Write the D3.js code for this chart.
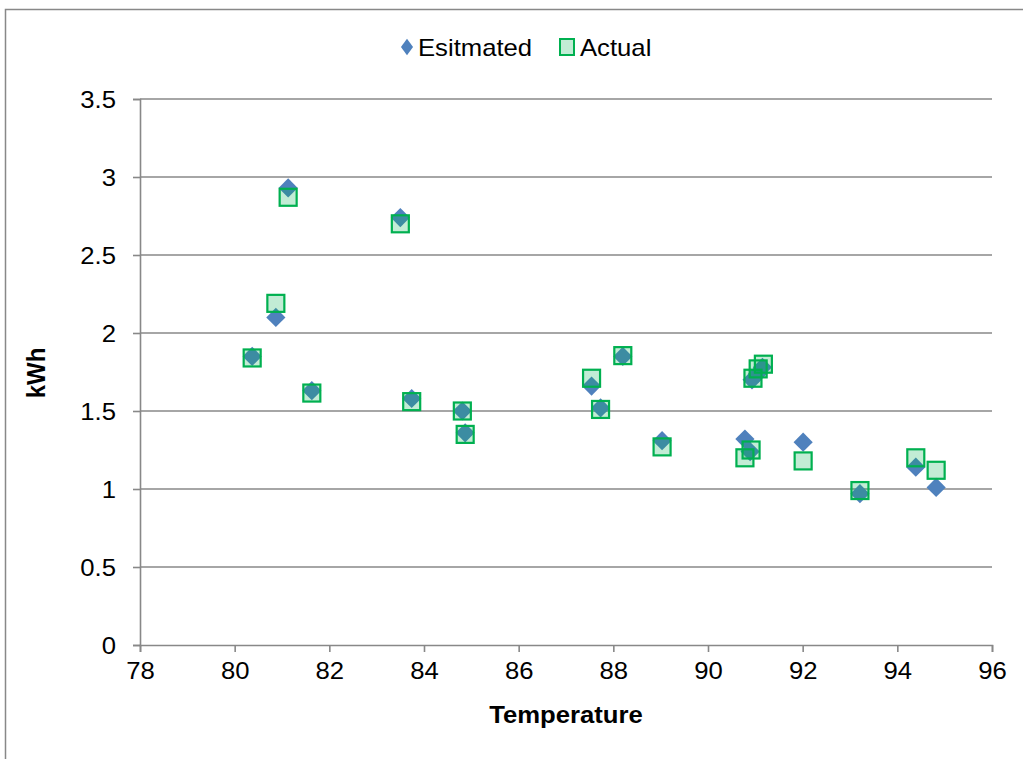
<!DOCTYPE html>
<html>
<head>
<meta charset="utf-8">
<script src="https://cdn.jsdelivr.net/npm/d3@7"></script>
<style>
  html, body { margin: 0; padding: 0; background: #fff; }
  svg { display: block; }
  text { font-family: "Liberation Sans", Arial, sans-serif; fill: #000; }
</style>
</head>
<body>
<svg id="chart" width="1023" height="759"></svg>
<script>
// Temperature readings (°F) for each day
const temperature = [80.37, 80.87, 81.13, 81.63, 83.50, 83.74, 84.81, 84.87, 87.54, 87.73, 88.20,
                     89.03, 90.78, 90.89, 90.93, 91.05, 91.15, 92.01, 93.21, 94.39, 94.82];
// Estimated energy use (kWh)
const estimated = [1.85, 2.10, 2.93, 1.63, 2.74, 1.58, 1.50, 1.36, 1.66, 1.52, 1.85,
                   1.31, 1.32, 1.24, 1.70, 1.74, 1.78, 1.30, 0.97, 1.14, 1.01];
// Metered energy use (kWh)
const actualTemp = [80.37, 80.87, 81.13, 81.63, 83.50, 83.74, 84.81, 84.87, 87.54, 87.73, 88.20,
                    89.03, 90.78, 90.91, 90.95, 91.06, 91.17, 92.01, 93.21, 94.39, 94.82];
const actual = [1.84, 2.19, 2.87, 1.615, 2.70, 1.56, 1.50, 1.35, 1.71, 1.51, 1.855,
                1.27, 1.20, 1.25, 1.71, 1.77, 1.80, 1.18, 0.99, 1.20, 1.12];

const xTicks = [78, 80, 82, 84, 86, 88, 90, 92, 94, 96];
const yTicks = [0, 0.5, 1, 1.5, 2, 2.5, 3, 3.5];
const seriesNames = ["Esitmated", "Actual"];

const BLUE = "#4f81bd";
const GREEN = "#00b050";
const GREEN_FILL = "rgba(0,176,80,0.24)";
const GRID = "#888888";
const SX = 1.07;   // slight horizontal stretch of the lettering
const FS = 24;

const svg = d3.select("#chart");

// outer chart frame
svg.append("rect")
  .attr("x", 5.5).attr("y", 9.5).attr("width", 1040).attr("height", 800)
  .attr("fill", "#fff").attr("stroke", GRID).attr("stroke-width", 1.5);

const plotL = 140, plotR = 992, plotT = 99, plotB = 645;
const x = d3.scaleLinear().domain([78, 96]).range([plotL, plotR]);
const y = d3.scaleLinear().domain([0, 3.5]).range([plotB, plotT]);

// horizontal gridlines
svg.append("g")
  .selectAll("line").data(yTicks.filter(d => d > 0)).join("line")
  .attr("x1", plotL).attr("x2", plotR)
  .attr("y1", d => y(d)).attr("y2", d => y(d))
  .attr("stroke", GRID).attr("stroke-width", 1.6);

// y axis
const yAxis = svg.append("g")
  .attr("transform", `translate(${plotL},0)`)
  .call(d3.axisLeft(y).tickValues(yTicks).tickSize(7).tickPadding(0).tickFormat(d3.format("")));
yAxis.select(".domain").attr("stroke", GRID).attr("stroke-width", 1.6);
yAxis.selectAll(".tick line").attr("stroke", GRID).attr("stroke-width", 1.6);
yAxis.selectAll(".tick text").remove();
yAxis.selectAll(".tick").append("text")
  .attr("transform", `translate(-24,8.5) scale(${SX},1)`)
  .attr("text-anchor", "end")
  .style("font-size", FS + "px")
  .text(d => d);

// x axis
const xAxis = svg.append("g")
  .attr("transform", `translate(0,${plotB})`)
  .call(d3.axisBottom(x).tickValues(xTicks).tickSize(7).tickPadding(0).tickFormat(d3.format("")));
xAxis.select(".domain").attr("stroke", GRID).attr("stroke-width", 1.6);
xAxis.selectAll(".tick line").attr("stroke", GRID).attr("stroke-width", 1.6);
xAxis.selectAll(".tick text").remove();
xAxis.selectAll(".tick").append("text")
  .attr("transform", `translate(0,34) scale(${SX},1)`)
  .attr("text-anchor", "middle")
  .style("font-size", FS + "px")
  .text(d => d);

// axis titles
svg.append("text")
  .attr("transform", `translate(566,723) scale(${SX},1)`)
  .attr("text-anchor", "middle")
  .style("font-size", FS + "px").style("font-weight", "bold")
  .text("Temperature");
svg.append("text")
  .attr("transform", `translate(45,373) scale(${SX},1) rotate(-90)`)
  .attr("text-anchor", "middle")
  .style("font-size", FS + "px").style("font-weight", "bold")
  .text("kWh");

// markers
const diamond = d3.symbol().type(d3.symbolDiamond2).size(235);
const estPts = temperature.map((t, i) => ({ t, v: estimated[i] }));
const actPts = actualTemp.map((t, i) => ({ t, v: actual[i] }));

svg.append("g").selectAll("path").data(estPts).join("path")
  .attr("d", diamond)
  .attr("transform", d => `translate(${x(d.t)},${y(d.v)})`)
  .attr("fill", BLUE);

const sq = 17;
svg.append("g").selectAll("rect").data(actPts).join("rect")
  .attr("x", d => x(d.t) - sq / 2).attr("y", d => y(d.v) - sq / 2)
  .attr("width", sq).attr("height", sq)
  .attr("fill", GREEN_FILL).attr("stroke", GREEN).attr("stroke-width", 2.2);

// legend
const lg = svg.append("g");
lg.append("path")
  .attr("d", d3.symbol().type(d3.symbolDiamond2).size(130))
  .attr("transform", "translate(407,47) scale(0.85,1.15)")
  .attr("fill", BLUE);
lg.append("text")
  .attr("transform", `translate(418,56) scale(${SX},1)`)
  .style("font-size", FS + "px")
  .text(seriesNames[0]);
lg.append("rect")
  .attr("x", 560).attr("y", 39).attr("width", 14).attr("height", 16)
  .attr("fill", GREEN_FILL).attr("stroke", GREEN).attr("stroke-width", 2);
lg.append("text")
  .attr("transform", `translate(580,56) scale(${SX},1)`)
  .style("font-size", FS + "px")
  .text(seriesNames[1]);
</script>
</body>
</html>
